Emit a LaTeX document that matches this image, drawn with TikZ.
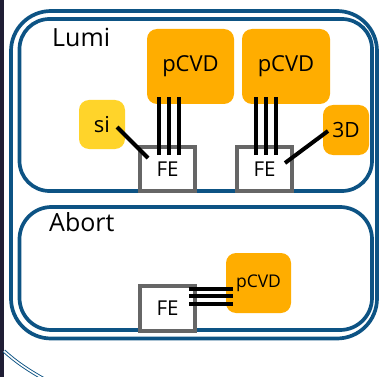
\documentclass[tikz,border=0pt]{standalone}
\usepackage{fontspec}
\setmainfont{Open Sans}
\usetikzlibrary{calc}
\definecolor{frameblue}{HTML}{0D5384}
\definecolor{pcvdorange}{HTML}{FFAD00}
\definecolor{siyellow}{HTML}{FFD42A}
\definecolor{fegrey}{HTML}{666666}
\definecolor{stripe}{HTML}{201E35}
\begin{document}
\begin{tikzpicture}[x=1pt,y=-1pt,
 frame/.style={draw=frameblue, line width=3.7pt, rounded corners=32pt},
 sensor/.style={fill=pcvdorange, rounded corners=10pt, inner sep=0pt, outer sep=0pt, text=black, font=\fontsize{22}{26}\selectfont},
 febox/.style={draw=fegrey, fill=white, line width=4pt, minimum width=55pt, minimum height=44pt, inner sep=0pt, outer sep=0pt, font=\fontsize{20.5}{24}\selectfont},
 wire/.style={line width=4pt, black},
 title/.style={anchor=base west, inner sep=0pt, font=\fontsize{25}{30}\selectfont}
]
\useasboundingbox (0,0) rectangle (380,377);
\fill[white] (0,0) rectangle (380,377);
\fill[stripe] (0,0) rectangle (4,377);
\draw[frameblue, double=white, double distance=1.6pt, line width=0.9pt] (4,351) .. controls (16,362) and (28,370) .. (44,379);
% frames
\draw[frame, rounded corners=40pt] (11,11) rectangle (377,338.5);
\draw[frame, rounded corners=30pt] (19.5,19) rectangle (372,191);
\draw[frame] (19.5,207) rectangle (372,330);
% titles
\node[title] (lumi) at (52,46.7) {Lumi};
\node[title] (abort) at (49,231.7) {Abort};
% sensors
\node[sensor, minimum width=87pt, minimum height=75pt] (p1) at (190.5,66.5) {pCVD};
\node[sensor, minimum width=88pt, minimum height=75pt] (p2) at (286,66.5) {pCVD};
\node[sensor, fill=siyellow, minimum width=46pt, minimum height=49pt] (si) at (102,124.5) {\raisebox{-2pt}{si}};
\node[sensor, minimum width=46pt, minimum height=50pt, font=\fontsize{21}{25}\selectfont] (d3) at (346,130) {\raisebox{-3.5pt}{3D}};
\node[sensor, minimum width=65pt, minimum height=60pt, font=\fontsize{17.5}{21}\selectfont] (p3) at (258.5,283) {pCVD};
% front ends
\node[febox] (fe1) at (167.5,169) {\raisebox{-2.5pt}{FE}};
\node[febox] (fe2) at (264.5,169) {\raisebox{-2.5pt}{FE}};
\node[febox, minimum height=45pt] (fe3) at (167.5,308.5) {\raisebox{-2.5pt}{FE}};
% wires
\foreach \dx in {-8.5,1.5,11.5} {
  \draw[wire] ($(fe1.north)+(\dx,8)$) -- ($(fe1.north |- p1.south)+(\dx,-7)$);
  \draw[wire] ($(fe2.north)+(\dx,8)$) -- ($(fe2.north |- p2.south)+(\dx,-7)$);
}
\draw[wire] ($(si.center)+(15,2.5)$) -- ($(fe1.center)+(-19.5,-11)$);
\draw[wire] ($(d3.center)+(-18,1)$) -- ($(fe2.center)+(20.5,-6)$);
\foreach \dy in {6,13.3,20.7}
  \draw[wire] ($(fe3.east |- p3.west)+(-6,\dy)$) -- ($(p3.west)+(7,\dy)$);
\end{tikzpicture}
\end{document}
